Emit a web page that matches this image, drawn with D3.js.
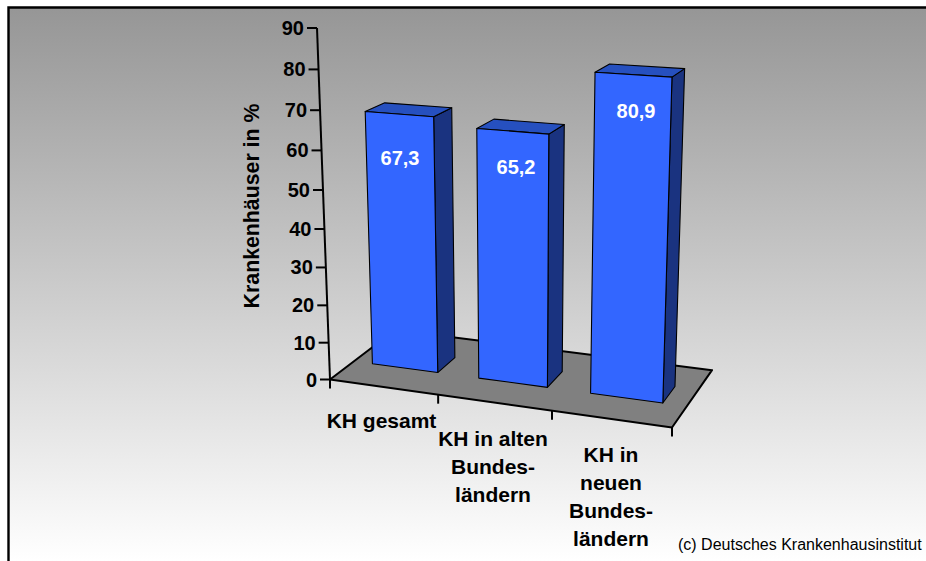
<!DOCTYPE html>
<html><head><meta charset="utf-8">
<script src="https://cdn.jsdelivr.net/npm/d3@7"></script>
<style>html,body{margin:0;padding:0;background:#fff}svg{display:block}text{font-family:"Liberation Sans",Arial,sans-serif}</style>
</head><body><svg id="c" width="926" height="561"></svg>
<script>
const categories = ["KH gesamt", "KH in alten Bundesländern", "KH in neuen Bundesländern"];
const categoryLines = [["KH gesamt"], ["KH in alten", "Bundes-", "ländern"], ["KH in", "neuen", "Bundes-", "ländern"]];
const values = [67.3, 65.2, 80.9];
const valueLabels = ["67,3", "65,2", "80,9"];
const ticks = [0, 10, 20, 30, 40, 50, 60, 70, 80, 90];
const axisTitle = "Krankenhäuser in %";
const credit = "(c) Deutsches Krankenhausinstitut";

// Perspective camera fitted to the reference: u = category position, v = value, d = depth
const cam = {x0:330, y0:379.5, ax:[97.2, -0.3704, 99.9], ay:[5.3, -3.9256, -20.3], w:[-0.025, -0.000713, 0.0883]};
function project(u, v, d) {
  const w = 1 + cam.w[0]*u + cam.w[1]*v + cam.w[2]*d;
  return [(cam.x0 + cam.ax[0]*u + cam.ax[1]*v + cam.ax[2]*d)/w,
          (cam.y0 + cam.ay[0]*u + cam.ay[1]*v + cam.ay[2]*d)/w];
}
const uScale = d3.scaleBand().domain(categories).range([-0.012, 2.988]).paddingInner(0.38).paddingOuter(0.19);
const vScale = d3.scaleLinear().domain([0, 90]).range([0, 90]);
const dFront = 0.35, dBack = 0.64;

const svg = d3.select("#c");
const defs = svg.append("defs");
const grad = defs.append("linearGradient").attr("id","bg").attr("x1",0).attr("y1",0).attr("x2",0).attr("y2",1);
grad.append("stop").attr("offset",0).attr("stop-color","#969696");
grad.append("stop").attr("offset",1).attr("stop-color","#ffffff");

svg.append("rect").attr("x",8).attr("y",8).attr("width",918).attr("height",553).attr("fill","url(#bg)");
svg.append("path").attr("d","M8.5,561V7.5H926").attr("fill","none").attr("stroke","#000").attr("stroke-width",2.4);

const poly = pts => "M" + pts.map(p => p.join(",")).join("L") + "Z";
svg.append("path").attr("d", poly([project(0,0,0),project(3,0,0),project(3,0,1),project(0,0,1)]))
  .attr("fill","#808080").attr("stroke","#000").attr("stroke-width",2).attr("stroke-linejoin","round");

// value axis
svg.append("path").attr("d","M"+project(0,vScale(90),0).join(",")+"L"+project(0,vScale(0),0).join(","))
  .attr("stroke","#000").attr("stroke-width",2).attr("fill","none");
const tickG = svg.append("g").selectAll("g").data(ticks).join("g");
tickG.append("line")
  .attr("x1",t=>project(0,vScale(t),0)[0]-10).attr("x2",t=>project(0,vScale(t),0)[0])
  .attr("y1",t=>project(0,vScale(t),0)[1]).attr("y2",t=>project(0,vScale(t),0)[1])
  .attr("stroke","#000").attr("stroke-width",2);
tickG.append("text").text(t=>t)
  .attr("x",t=>project(0,vScale(t),0)[0]-13).attr("y",t=>project(0,vScale(t),0)[1]+7)
  .attr("text-anchor","end").attr("font-size",20).attr("font-weight","bold").attr("fill","#000");

// category ticks
svg.append("g").selectAll("line").data([0,1,2,3]).join("line")
  .attr("x1",u=>project(u,0,0)[0]).attr("x2",u=>project(u,0,0)[0])
  .attr("y1",u=>project(u,0,0)[1]).attr("y2",u=>project(u,0,0)[1]+9)
  .attr("stroke","#000").attr("stroke-width",2);

// bars
const bars = svg.append("g").selectAll("g").data(categories).join("g");
const barPts = (c,i) => { const a=uScale(c), b=a+uScale.bandwidth(), v=vScale(values[i]);
  return {a,b,v}; };
bars.append("path").attr("d",(c,i)=>{const {a,b,v}=barPts(c,i);
  return poly([project(b,0,dFront),project(b,0,dBack),project(b,v,dBack),project(b,v,dFront)]);})
  .attr("fill","#1a3380").attr("stroke","#000").attr("stroke-width",1.1).attr("stroke-linejoin","round");
bars.append("path").attr("d",(c,i)=>{const {a,b,v}=barPts(c,i);
  return poly([project(a,v,dFront),project(b,v,dFront),project(b,v,dBack),project(a,v,dBack)]);})
  .attr("fill","#2650bf").attr("stroke","#000").attr("stroke-width",1.1).attr("stroke-linejoin","round");
bars.append("path").attr("d",(c,i)=>{const {a,b,v}=barPts(c,i);
  return poly([project(a,0,dFront),project(b,0,dFront),project(b,v,dFront),project(a,v,dFront)]);})
  .attr("fill","#3366ff").attr("stroke","#000").attr("stroke-width",1.1).attr("stroke-linejoin","round");

const labelPos = [[400,165],[516,174],[636,118]];
bars.append("text").text((c,i)=>valueLabels[i])
  .attr("x",(c,i)=>labelPos[i][0]).attr("y",(c,i)=>labelPos[i][1])
  .attr("text-anchor","middle").attr("font-size",20).attr("font-weight","bold").attr("fill","#fff");

// category labels
const catPos = [[381.5,[428]],[493,[446,474,502]],[611,[462,490,518,546]]];
categoryLines.forEach((lines,i)=>{
  lines.forEach((ln,j)=>{
    svg.append("text").text(ln).attr("x",catPos[i][0]).attr("y",catPos[i][1][j])
      .attr("text-anchor","middle").attr("font-size",21).attr("font-weight","bold").attr("fill","#000");
  });
});
svg.append("text").text(axisTitle).attr("transform","translate(259,206) rotate(-90)")
  .attr("text-anchor","middle").attr("font-size",21.3).attr("font-weight","bold").attr("fill","#000");
svg.append("text").text(credit).attr("x",678).attr("y",550).attr("font-size",16).attr("fill","#000");
</script></body></html>
